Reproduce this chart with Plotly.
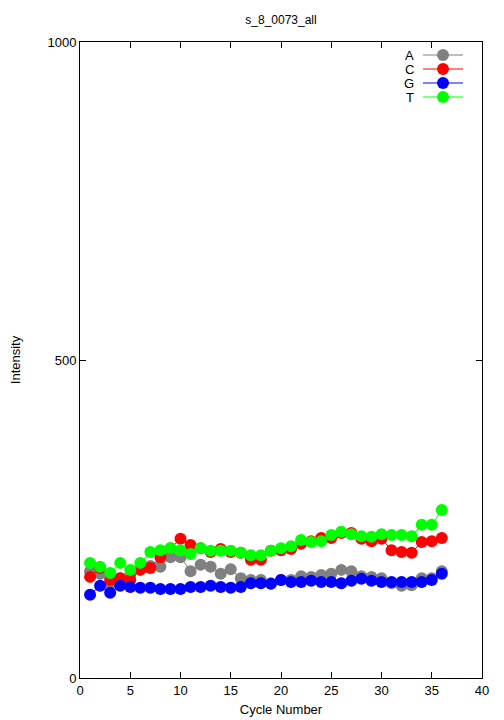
import plotly.graph_objects as go

cycles = list(range(1, 37))
A = [168, 164, 148, 157, 162, 173, 176, 175, 190, 190, 168, 178, 175, 164, 171, 157, 154, 154,
     149, 154, 154, 160, 159, 162, 164, 170, 168, 160, 159, 157, 149, 145, 146, 157, 157, 168]
C = [159, 173, 154, 157, 154, 170, 173, 190, 204, 219, 209, 204, 198, 203, 198, 197, 186, 186,
     200, 201, 203, 211, 215, 220, 220, 228, 228, 219, 215, 219, 201, 198, 197, 214, 215, 220]
G = [131, 145, 134, 145, 143, 142, 142, 140, 140, 140, 143, 143, 145, 143, 142, 143, 149, 149,
     148, 154, 151, 151, 153, 151, 151, 149, 153, 156, 153, 151, 151, 151, 151, 151, 154, 164]
T = [181, 175, 165, 181, 170, 181, 198, 201, 204, 201, 195, 204, 200, 200, 200, 197, 193, 193,
     200, 204, 207, 217, 214, 215, 225, 230, 226, 223, 222, 226, 225, 225, 223, 241, 241, 264]

series = [("A", A, "#808080"), ("C", C, "#ff0000"), ("G", G, "#0000ff"), ("T", T, "#00ff00")]

FONT = "Liberation Sans, Arial, Helvetica, sans-serif"
OFF = 8  # default body margin of the page
fig = go.Figure()
for name, vals, col in series:
    fig.add_trace(go.Scatter(x=cycles, y=vals, mode="lines+markers", name=name,
                             line=dict(color=col, width=1),
                             marker=dict(color=col, size=12, line=dict(width=0)),
                             showlegend=False))

# manual gnuplot-style legend (text left, sample right); page pixel coords
L, R, Tp, Bt = 80, 482, 42, 678
W, H = R - L, Bt - Tp
def px(x): return (x - L) / W
def py(y): return (Bt - y) / H
rows = [55, 69, 83, 97]
for (name, vals, col), yy in zip(series, rows):
    fig.add_annotation(x=px(415), y=py(yy), xref="paper", yref="paper", text=name,
                       showarrow=False, xanchor="right", yanchor="middle", height=12, borderpad=0,
                       font=dict(family=FONT, size=13, color="black"))
    fig.add_shape(type="line", xref="paper", yref="paper", x0=px(423), x1=px(463),
                  y0=py(yy), y1=py(yy), line=dict(color=col, width=1))
    fig.add_shape(type="circle", xref="paper", yref="paper", xsizemode="pixel", ysizemode="pixel",
                  xanchor=px(443), yanchor=py(yy), x0=-6, x1=6, y0=-6, y1=6,
                  fillcolor=col, line=dict(width=0))

axis_common = dict(showline=True, linecolor="black", linewidth=1, mirror="ticks",
                   ticks="inside", ticklen=6, tickcolor="black", showgrid=False, zeroline=False,
                   automargin=False,
                   tickfont=dict(family=FONT, size=13, color="black"))
fig.update_xaxes(range=[0, 40], tickvals=[0, 5, 10, 15, 20, 25, 30, 35, 40],
                 title=dict(text="Cycle Number", font=dict(family=FONT, size=13, color="black"), standoff=8),
                 **axis_common)
fig.update_yaxes(range=[0, 1000], tickvals=[0, 500, 1000],
                 title=dict(text="Intensity", font=dict(family=FONT, size=13, color="black"), standoff=28),
                 **axis_common)
FW, FH = 504 - OFF, 720 - OFF
fig.update_layout(width=FW, height=FH, plot_bgcolor="white", paper_bgcolor="white",
                  margin=dict(l=L - OFF, r=FW - (R - OFF), t=Tp - OFF, b=FH - (Bt - OFF)),
                  title=dict(text="s_8_0073_all", xref="paper", x=0.5, xanchor="center",
                             y=1 - (20 - OFF) / FH, yanchor="middle",
                             font=dict(family=FONT, size=12, color="black")),
                  font=dict(family=FONT))
fig.write_html("out.html")
